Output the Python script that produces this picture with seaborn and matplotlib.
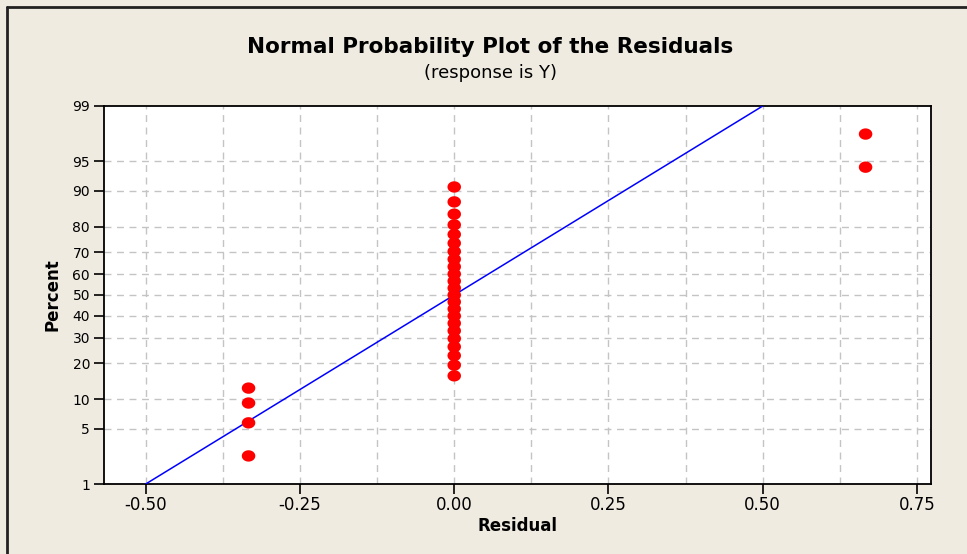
import numpy as np
import pandas as pd
import matplotlib
matplotlib.use("Agg")
import matplotlib.pyplot as plt
from matplotlib.path import Path
import seaborn as sns
from statistics import NormalDist

# ---- data ----
residuals = [-1/3] * 4 + [0.0] * 23 + [2/3] * 2
percents = [2.38, 5.78, 9.18, 12.59, 15.99, 19.39, 22.79, 26.19, 29.59, 32.99,
            36.39, 39.80, 43.20, 46.60, 50.00, 53.40, 56.80, 60.20, 63.61, 67.01,
            70.41, 73.81, 77.21, 80.61, 84.01, 87.41, 90.82, 94.22, 97.62]
fit_x = [-0.5, 0.5]
fit_pct = [1.0, 99.0]
y_ticks = [1, 5, 10, 20, 30, 40, 50, 60, 70, 80, 90, 95, 99]
x_ticks = [-0.50, -0.25, 0.00, 0.25, 0.50, 0.75]
x_grid = [-0.50, -0.375, -0.25, -0.125, 0.0, 0.125, 0.25, 0.375, 0.50, 0.625, 0.75]

pts = pd.DataFrame({"Residual": residuals, "Percent": percents})
fit = pd.DataFrame({"Residual": fit_x, "Percent": fit_pct})

sns.set_style("white")
plt.rcParams["font.family"] = ["DejaVu Sans"]

BG = "#EFEBE1"
fig = plt.figure(figsize=(9.67, 5.54), dpi=100, facecolor=BG)
W, H = 967, 554
ax = fig.add_axes([104 / W, 1 - 484 / H, (931 - 104) / W, (484 - 106) / H])
ax.set_facecolor("white")

nd = NormalDist()
_fwd = np.vectorize(lambda p: nd.inv_cdf(min(max(p / 100.0, 1e-9), 1 - 1e-9)), otypes=[float])
_inv = np.vectorize(lambda z: nd.cdf(z) * 100.0, otypes=[float])
ax.set_yscale("function", functions=(_fwd, _inv))

# slightly wide elliptical dot like the original
t = np.linspace(0, 2 * np.pi, 40)
ell = Path(np.column_stack([np.cos(t), 0.84 * np.sin(t)]), closed=True)

sns.lineplot(data=fit, x="Residual", y="Percent", ax=ax, color="#0000FF",
             linewidth=1.1, zorder=3)
sns.scatterplot(data=pts, x="Residual", y="Percent", ax=ax, color="#FF0000",
                marker=ell, s=95, edgecolor="none", zorder=4)

ax.set_xlim(-0.5676, 0.7727)
ax.set_ylim(1, 99)

# grid
for gx in x_grid:
    ax.axvline(gx, color="#C4C4C4", lw=1.0, ls=(0, (5, 4)), zorder=1)
for gy in y_ticks[1:-1]:
    ax.axhline(gy, color="#C4C4C4", lw=1.0, ls=(0, (5, 4)), zorder=1)

ax.set_xticks(x_ticks)
ax.set_xticklabels([f"{v:.2f}" for v in x_ticks])
ax.set_yticks(y_ticks)
ax.set_yticklabels([str(v) for v in y_ticks])
ax.yaxis.set_minor_locator(matplotlib.ticker.NullLocator())
ax.tick_params(axis="x", direction="out", length=7, width=1.2, labelsize=12,
               pad=2, color="black", labelcolor="black", bottom=True)
ax.tick_params(axis="y", direction="out", length=7, width=1.2, labelsize=10,
               pad=3, color="black", labelcolor="black", left=True)
for sp in ax.spines.values():
    sp.set_color("black")
    sp.set_linewidth(1.3)

ax.set_xlabel("Residual", fontsize=12, fontweight="bold", labelpad=2, color="black")
ax.set_ylabel("Percent", fontsize=12, fontweight="bold", labelpad=8, color="black")

fig.text(490 / W, 1 - 47 / H, "Normal Probability Plot of the Residuals",
         ha="center", va="center", fontsize=15.5, fontweight="bold", color="black")
fig.text(490 / W, 1 - 73 / H, "(response is Y)", ha="center", va="center",
         fontsize=13, color="black")

# outer frame (top & left visible)
fig.add_artist(plt.Line2D([7 / W, 7 / W], [0, 1 - 7 / H], transform=fig.transFigure,
                          color="#222222", lw=2))
fig.add_artist(plt.Line2D([7 / W, 1], [1 - 7 / H, 1 - 7 / H], transform=fig.transFigure,
                          color="#222222", lw=2))

fig.savefig("out.png", dpi=100, facecolor=BG)
